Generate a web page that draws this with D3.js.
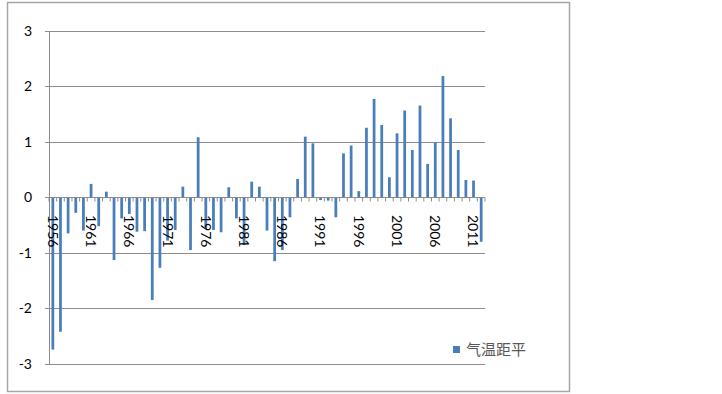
<!DOCTYPE html>
<html lang="zh">
  <head>
    <meta charset="utf-8">
    <title>气温距平</title>
    <script src="https://d3js.org/d3.v7.min.js"></script>
    <style>
      body { margin: 0; background: #fff; }
      text { font-family: Lato, "Open Sans", sans-serif; }
    </style>
  </head>
  <body>
    <script type="text/javascript">
    let w = 722;
    let h = 394;

    // years 1956 - 2012
    let years = d3.range(1956, 2013);
    let anomaly = [
      -2.74, -2.42, -0.65, -0.28, -0.60, 0.24, -0.52, 0.10, -1.13, -0.38,
      -0.30, -0.62, -0.61, -1.85, -1.27, -0.78, -0.59, 0.19, -0.95, 1.08,
      -0.55, -0.59, -0.63, 0.18, -0.38, -0.86, 0.28, 0.19, -0.60, -1.15,
      -0.95, -0.36, 0.33, 1.09, 0.97, -0.05, -0.06, -0.36, 0.79, 0.93,
      0.11, 1.25, 1.77, 1.30, 0.36, 1.15, 1.56, 0.85, 1.65, 0.60,
      0.99, 2.18, 1.42, 0.85, 0.31, 0.30, -0.80
    ];
    let yTicks = [-3, -2, -1, 0, 1, 2, 3];
    let xLabels = [1956, 1961, 1966, 1971, 1976, 1981, 1986, 1991, 1996, 2001, 2006, 2011];
    let seriesName = "气温距平";

    let svg = d3.select("body")
                .append("svg")
                .attr("width", w)
                .attr("height", h);

    // outer chart frame
    svg.append("rect")
       .attr("x", 7.5).attr("y", 2.5)
       .attr("width", 562).attr("height", 389)
       .attr("fill", "none")
       .attr("stroke", "#a6a6a6")
       .attr("stroke-width", 1.5);

    let plotL = 49, plotR = 485, plotT = 30.5, plotB = 364;

    let xScale = d3.scaleBand()
        .domain(years)
        .range([plotL, plotR])
        .paddingInner(0.64)
        .paddingOuter(0.32);

    let yScale = d3.scaleLinear()
        .domain([-3, 3])
        .range([plotB, plotT]);

    let grid = "#8c8c8c";

    // gridlines + left ticks
    svg.append("g")
       .selectAll("line")
       .data(yTicks)
       .enter()
       .append("line")
       .attr("x1", plotL - 4)
       .attr("x2", plotR)
       .attr("y1", d => Math.round(yScale(d)) + 0.5)
       .attr("y2", d => Math.round(yScale(d)) + 0.5)
       .attr("stroke", grid);

    svg.append("g")
       .selectAll("text")
       .data(yTicks)
       .enter()
       .append("text")
       .text(d => d)
       .attr("x", 32)
       .attr("y", d => yScale(d))
       .attr("dy", "0.36em")
       .attr("text-anchor", "end")
       .attr("font-size", 14)
       .attr("fill", "#000");

    // y axis line
    svg.append("line")
       .attr("x1", plotL + 0.5).attr("x2", plotL + 0.5)
       .attr("y1", Math.round(yScale(3))).attr("y2", Math.round(yScale(-3)) + 1)
       .attr("stroke", grid);

    // bars
    svg.selectAll("rect.bar")
      .data(anomaly)
      .enter()
      .append("rect")
      .attr("class", "bar")
      .attr("x", (d, i) => xScale(years[i]))
      .attr("width", xScale.bandwidth())
      .attr("y", d => yScale(Math.max(0, d)))
      .attr("height", d => Math.abs(yScale(d) - yScale(0)))
      .attr("fill", "#4a7ebb");

    // x axis ticks at band boundaries
    let step = xScale.step();
    let y0 = Math.round(yScale(0)) + 0.5;
    svg.append("g")
       .selectAll("line")
       .data(d3.range(years.length + 1))
       .enter()
       .append("line")
       .attr("x1", i => plotL + i * step)
       .attr("x2", i => plotL + i * step)
       .attr("y1", y0)
       .attr("y2", y0 + 4)
       .attr("stroke", grid);

    svg.append("line")
       .attr("x1", plotL).attr("x2", plotR)
       .attr("y1", y0).attr("y2", y0)
       .attr("stroke", grid);

    // rotated year labels
    svg.append("g")
       .selectAll("text")
       .data(xLabels)
       .enter()
       .append("text")
       .text(d => d)
       .attr("transform", d => "translate(" + (xScale(d) + xScale.bandwidth() / 2) + "," + 215 + ") rotate(90)")
       .attr("dy", "0.36em")
       .attr("font-size", 14)
       .attr("fill", "#000");

    // legend
    svg.append("rect")
       .attr("x", 453).attr("y", 346)
       .attr("width", 7).attr("height", 7)
       .attr("fill", "#4a7ebb");
    svg.append("text")
       .text(seriesName)
       .attr("x", 466)
       .attr("y", 350)
       .attr("dy", "0.36em")
       .attr("font-size", 15)
       .attr("fill", "#595959")
       .style("font-family", "'Noto Sans CJK SC', sans-serif");
    </script>
  </body>
</html>
